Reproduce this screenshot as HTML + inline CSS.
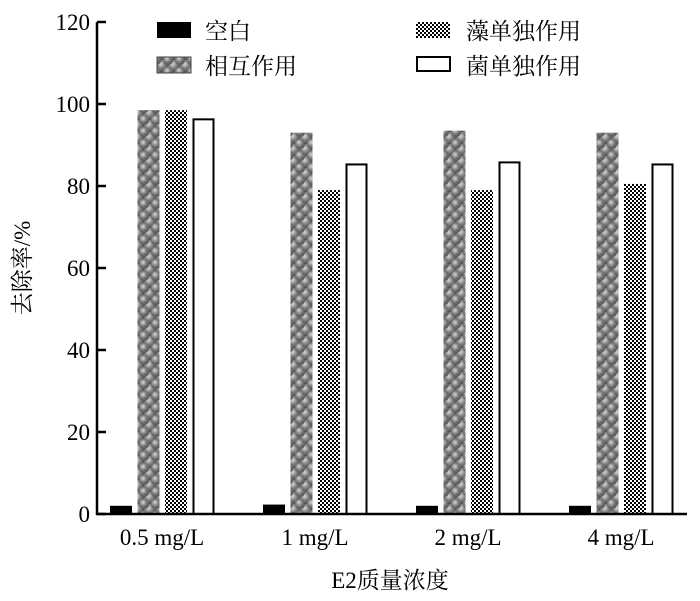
<!DOCTYPE html>
<html><head><meta charset="utf-8"><style>
html,body{margin:0;padding:0;background:#fff;}
svg{display:block;}
text{font-family:"Liberation Serif","Noto Serif CJK SC","Noto Sans CJK SC",serif;fill:#000;}
</style></head><body>
<svg id="chart" width="700" height="601" viewBox="0 0 700 601">
<defs>
<radialGradient id="ball" cx="40%" cy="35%" r="65%">
<stop offset="0" stop-color="#d8d8d8"/><stop offset="0.5" stop-color="#808080"/><stop offset="1" stop-color="#505050"/>
</radialGradient>
<pattern id="bubbles" width="12" height="12" patternUnits="userSpaceOnUse">
<rect width="12" height="12" fill="#6a6a6a"/>
<circle cx="6" cy="6" r="6" fill="url(#ball)"/>
<circle cx="0" cy="0" r="5" fill="url(#ball)"/><circle cx="12" cy="0" r="5" fill="url(#ball)"/>
<circle cx="0" cy="12" r="5" fill="url(#ball)"/><circle cx="12" cy="12" r="5" fill="url(#ball)"/>
</pattern>
<pattern id="checker" width="4" height="4" patternUnits="userSpaceOnUse">
<rect width="4" height="4" fill="#fff"/><rect width="2" height="2" fill="#000"/><rect x="2" y="2" width="2" height="2" fill="#000"/>
</pattern>
</defs>
<g id="bars"></g>
<g id="axes"></g>
<g>
<rect x="157" y="22" width="34" height="16" fill="#000"/>
<text x="205" y="39" font-size="23">空白</text>
<rect x="157" y="57" width="34" height="16" fill="url(#bubbles)" stroke="#444"/>
<text x="205" y="74" font-size="23">相互作用</text>
<rect x="416" y="22" width="34" height="16" fill="url(#checker)"/>
<text x="466" y="39" font-size="23">藻单独作用</text>
<rect x="417" y="57" width="33" height="14" fill="#fff" stroke="#000" stroke-width="2"/>
<text x="466" y="74" font-size="23">菌单独作用</text>
</g>
<text x="390" y="588" font-size="23" text-anchor="middle">E2质量浓度</text>
<text transform="translate(30,268) rotate(-90)" font-size="23" text-anchor="middle">去除率/%</text>
</svg>
<script>
const categories = ["0.5 mg/L","1 mg/L","2 mg/L","4 mg/L"];
const blankValues = [2, 2.3, 2, 2];
const interactionValues = [98.5, 93, 93.5, 93];
const algaeValues = [98.5, 79, 79, 80.5];
const bacteriaValues = [96.5, 85.5, 86, 85.5];
const yTicks = [0,20,40,60,80,100,120];

const NS="http://www.w3.org/2000/svg";
const x0=97, x1=687, y0=514, yTop=22;
function yScale(v){return y0-(v/120)*(y0-yTop);}
function groupX(i){return 110+i*153;}
const bars=document.getElementById('bars');
const axes=document.getElementById('axes');
const series=[
 {vals:blankValues,fill:"#000",stroke:"none",name:"blank"},
 {vals:interactionValues,fill:"url(#bubbles)",stroke:"none",name:"interaction"},
 {vals:algaeValues,fill:"url(#checker)",stroke:"none",name:"algae"},
 {vals:bacteriaValues,fill:"#fff",stroke:"#000",name:"bacteria"}];
categories.forEach((c,i)=>{
 series.forEach((s,j)=>{
  const r=document.createElementNS(NS,'rect');
  const bx=groupX(i)+j*27.5, y=yScale(s.vals[i]);
  const sw=s.stroke==="none"?0:1;
  r.setAttribute('x',bx+sw);r.setAttribute('y',y+sw);
  r.setAttribute('width',22-2*sw);r.setAttribute('height',y0-y-sw);
  r.setAttribute('fill',s.fill);
  if(sw){r.setAttribute('stroke',s.stroke);r.setAttribute('stroke-width',2);}
  
  
  bars.appendChild(r);
 });
 const t=document.createElementNS(NS,'text');
 t.setAttribute('x',groupX(i)+52);t.setAttribute('y',545);
 t.setAttribute('font-size','23');t.setAttribute('text-anchor','middle');
 t.textContent=c;
 
 
 axes.appendChild(t);
});
function line(a,b,c,d,n){const l=document.createElementNS(NS,'line');
 l.setAttribute('x1',a);l.setAttribute('y1',b);l.setAttribute('x2',c);l.setAttribute('y2',d);
 l.setAttribute('stroke','#000');l.setAttribute('stroke-width','2.5');
 
 
 axes.appendChild(l);}
line(x0,yTop,x0,y0+1,'y-axis-line');
line(x0-1,y0,x1,y0,'x-axis-line');
yTicks.forEach(v=>{
 line(x0,yScale(v),x0+9,yScale(v),'y-tick');
 const t=document.createElementNS(NS,'text');
 t.setAttribute('x',x0-7);t.setAttribute('y',yScale(v)+8);
 t.setAttribute('font-size','23');t.setAttribute('text-anchor','end');
 t.textContent=v;
 
 
 axes.appendChild(t);
});
</script>
</body></html>
